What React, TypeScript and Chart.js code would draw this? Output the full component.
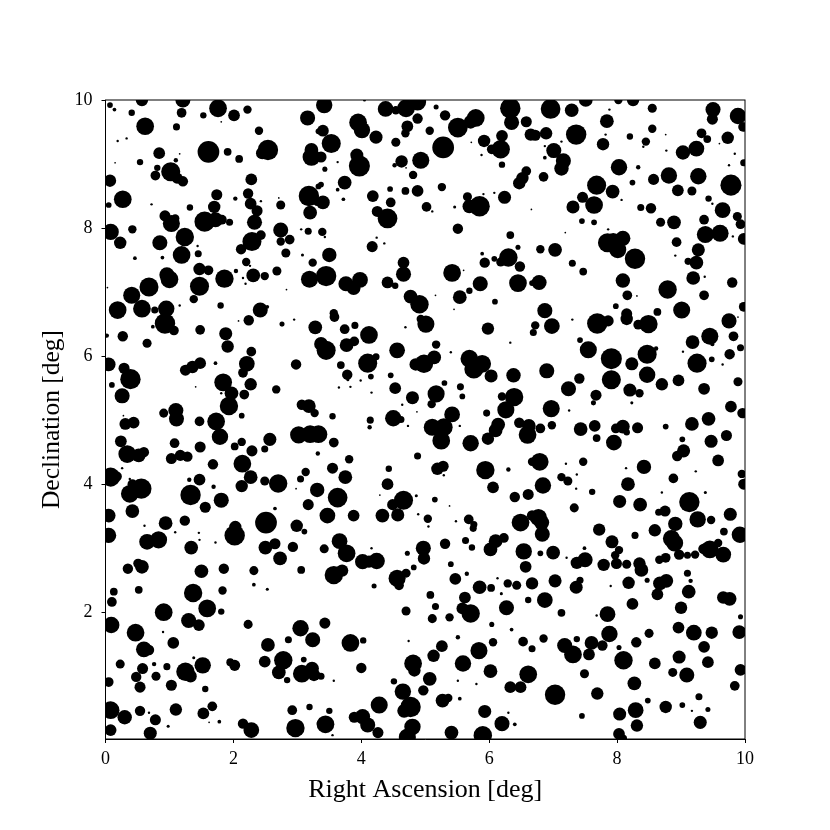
import React, { useEffect, useRef } from "react";
import { Chart, registerables } from "chart.js";

Chart.register(...registerables);

const xTickValues = [0, 2, 4, 6, 8, 10];
const yTickValues = [2, 4, 6, 8, 10];
const xTitle = "Right Ascension [deg]";
const yTitle = "Declination [deg]";

// Each sky patch: right ascension, declination, source flux
const raA = [0.57,1.21,0.07,0.14,0.41,0.62,1.19,1.53,1.76,2.01,2.22,1.11,1.81,2.40,3.16,3.33,0.19,0.33,0.84,1.16,1.61,1.91,2.09,2.54,2.45,3.22,3.22,0.15,0.54,1.10,0.81,0.78,1.02,1.12,1.21,0.07,2.28,0.27,0.05,0.72,1.32,1.74,2.03,2.23,2.27,2.37,2.43,2.71,2.74,3.18,3.33,3.20,3.31,1.70,0.93,1.03,1.09,1.55,1.72,1.82,1.94,2.33,0.08,0.42,0.23,1.24,0.85,2.74,3.17,3.06,2.43,2.29,2.12,2.74,2.88,1.44,1.45,1.19,2.82,0.46,0.89,3.08,3.24,2.20,2.26,1.47,1.61,2.04,2.68,0.96,1.00,1.86,2.31,2.49,2.15,2.19,3.19,1.47,0.68,2.83,0.41,1.38,0.19,0.57,0.77,0.95,1.16,1.80,2.42,2.53,0.03];
const decA = [10.00,10.00,9.92,9.85,9.80,9.59,9.80,9.76,9.87,9.76,9.85,9.58,9.66,9.52,9.72,9.51,9.36,9.40,9.17,9.16,9.19,9.19,9.08,9.22,9.17,9.22,9.11,9.02,9.03,9.06,8.94,8.82,8.88,8.78,8.73,8.74,8.76,8.45,8.36,8.37,8.32,8.52,8.46,8.54,8.38,8.27,8.42,8.47,8.36,8.50,8.65,8.24,8.41,8.33,8.19,8.07,8.15,8.10,8.13,8.13,8.09,8.09,7.94,7.98,7.77,7.86,7.77,7.97,7.95,7.98,7.89,7.79,7.67,7.79,7.82,7.72,7.60,7.58,7.61,7.53,7.54,7.58,7.46,7.47,7.41,7.36,7.34,7.33,7.33,7.27,7.20,7.21,7.26,7.25,7.22,7.13,7.20,7.09,7.08,7.04,6.95,6.89,6.72,6.74,6.72,6.74,6.79,6.79,6.72,6.77,7.07];
const fluxA = [18,22,8,5,9,26,14,9,26,17,12,10,2,12,22,8,3,3,17,2,32,11,11,30,18,20,26,2,9,6,9,14,28,16,15,18,17,26,8,3,9,16,6,15,17,16,3,2,13,30,8,20,12,18,16,25,12,30,22,14,10,22,24,12,18,27,22,22,10,3,14,28,15,12,14,3,10,26,13,5,5,4,12,12,3,18,14,6,13,22,26,27,20,12,3,3,25,28,28,2,25,12,26,26,10,24,3,9,22,5,2];

const raB = [3.42,4.38,4.54,4.70,4.88,4.05,5.17,5.31,4.88,4.72,4.69,3.95,4.01,3.40,3.53,4.23,4.54,5.07,5.51,5.79,5.71,6.33,6.35,6.58,6.65,6.20,5.92,5.28,5.72,6.18,6.04,5.88,6.20,3.37,3.93,3.97,3.63,3.43,4.63,4.52,4.93,4.70,4.81,6.58,6.52,6.47,3.37,3.74,3.63,3.72,3.40,4.18,4.45,4.69,4.88,5.26,4.46,5.02,5.11,5.46,5.66,5.69,5.85,5.91,6.08,6.24,6.66,4.25,4.41,3.39,3.43,5.51,6.33,4.24,4.36,4.17,6.45,3.50,5.89,6.30,6.08,6.18,5.93,6.48,4.66,4.66,3.45,5.42,5.60,3.76,3.88,3.98,4.41,4.53,5.86,6.45,5.69,5.54,4.77,4.91,5.16,6.09,5.45,3.57,6.67];
const decB = [9.92,9.86,9.84,9.87,9.97,10.00,9.89,9.76,9.71,9.59,9.48,9.65,9.53,9.52,9.32,9.42,9.34,9.52,9.57,9.72,9.66,9.87,9.65,9.66,9.46,9.44,9.36,9.26,9.34,9.23,9.23,9.14,8.99,9.11,9.14,8.97,9.03,8.92,9.04,8.98,9.06,8.94,8.83,8.89,8.78,8.70,8.68,8.71,8.60,8.45,8.40,8.50,8.61,8.58,8.58,8.64,8.40,8.33,8.26,8.33,8.49,8.34,8.34,8.53,8.55,8.48,8.29,8.26,8.15,7.94,7.86,7.99,7.89,7.85,7.76,7.71,7.70,7.58,7.60,7.54,7.52,7.47,7.46,7.40,7.46,7.28,7.25,7.30,7.34,7.13,7.06,7.19,7.15,7.10,7.13,7.14,7.02,6.92,6.93,6.81,6.95,6.85,6.73,6.67,7.14];
const fluxB = [24,23,12,26,25,4,7,15,15,17,12,26,24,17,28,19,13,12,29,26,20,30,22,16,18,17,18,32,2,27,14,3,9,16,19,31,3,7,18,6,25,2,12,14,18,18,8,20,5,5,20,17,8,11,17,12,14,14,3,4,13,20,30,3,3,19,2,16,29,12,3,15,11,3,3,16,7,21,5,27,8,13,15,15,17,22,30,26,2,22,20,23,17,9,22,26,9,20,20,27,2,8,2,12,8];

const raC = [6.96,7.29,7.51,8.02,8.25,8.55,7.88,7.84,8.55,9.50,9.49,9.89,9.97,6.89,6.72,7.36,7.82,8.20,8.76,9.32,9.41,9.73,7.78,8.45,7.13,6.87,8.41,8.77,9.60,7.01,6.87,7.16,7.13,9.03,9.24,9.84,9.98,9.75,8.03,8.33,6.85,8.81,8.57,9.27,8.24,9.78,7.68,7.93,8.95,9.17,7.46,7.64,7.31,8.07,8.37,8.53,9.43,9.49,9.65,9.88,9.93,9.36,7.45,7.64,8.68,8.89,7.86,7.19,9.38,9.61,9.81,9.98,7.85,7.94,8.09,8.01,8.93,6.80,7.03,9.27,8.28,8.91,7.30,9.24,9.11,7.47,9.37,9.19,6.78,8.09,9.80,8.79,8.16,8.31,9.36,7.98,6.87,8.15,8.63,9.01,9.98];
const decC = [9.86,9.84,10.00,10.00,10.00,9.87,9.85,9.67,9.55,9.85,9.70,9.75,9.58,9.48,9.45,9.46,9.46,9.43,9.46,9.48,9.39,9.41,9.31,9.35,9.35,9.28,9.27,9.21,9.32,9.21,9.10,9.05,8.93,9.18,9.24,9.16,9.02,8.98,8.95,8.95,8.80,8.82,8.76,8.81,8.71,8.67,8.67,8.57,8.59,8.58,8.48,8.36,8.33,8.44,8.32,8.31,8.46,8.38,8.28,8.18,8.06,8.13,8.11,8.09,8.09,8.09,7.98,7.93,7.90,7.92,7.87,7.83,7.77,7.79,7.84,7.66,7.78,7.67,7.66,7.66,7.52,7.57,7.45,7.46,7.48,7.32,7.24,7.22,7.15,7.18,7.15,7.04,6.95,6.94,6.95,6.78,6.71,6.66,6.69,6.72,6.77];
const fluxC = [29,20,20,12,18,13,3,20,12,22,16,24,14,18,16,30,3,9,2,14,11,18,18,12,3,3,3,3,2,22,5,22,21,21,23,3,10,3,24,6,14,24,16,24,8,31,28,20,17,13,16,26,19,3,10,15,9,3,23,13,14,14,8,8,13,20,3,2,25,25,3,17,28,25,22,25,14,12,20,19,30,3,10,20,10,11,3,20,22,21,15,27,14,2,14,8,22,16,11,25,14];

const raD = [0.93,1.07,0.74,1.48,0.27,0.65,0.02,1.88,1.91,2.24,2.08,2.76,2.95,3.28,2.28,0.05,1.72,2.21,2.15,2.98,1.48,1.36,1.25,0.29,0.39,0.10,0.26,1.41,1.84,2.27,1.97,1.81,2.17,2.67,1.93,2.13,3.07,3.18,3.27,0.91,1.10,1.11,0.28,0.31,0.44,1.47,1.73,1.79,0.24,1.08,2.57,2.13,2.02,1.48,2.29,2.49,3.02,3.20,3.33,0.34,0.52,0.60,1.03,1.17,1.28,2.14,1.68,3.32,0.08,0.18,0.26,0.38,1.31,1.47,2.27,3.13,3.05,2.49,2.70,2.13,1.69,2.98,0.56,0.38,0.42,0.42,1.33,1.81,1.56,3.31,3.17,2.65,0.05,0.94,1.24,0.61,2.51,2.03,2.99];
const decD = [6.51,6.40,6.46,6.41,6.31,6.20,6.32,6.35,6.15,6.56,6.55,6.50,6.57,6.45,6.07,5.87,5.89,5.88,5.74,5.87,5.89,5.83,5.78,5.81,5.64,5.55,5.38,5.52,5.59,5.56,5.42,5.42,5.40,5.48,5.22,5.07,5.24,5.22,5.11,5.11,5.15,5.02,5.07,4.94,4.96,4.98,4.98,4.74,4.67,4.64,4.70,4.66,4.59,4.58,4.52,4.55,4.77,4.78,4.78,4.47,4.45,4.50,4.40,4.45,4.43,4.32,4.31,4.48,4.11,4.12,4.25,4.08,4.07,4.07,4.11,4.19,4.08,4.05,4.01,3.97,3.96,3.93,3.93,3.85,4.00,3.58,3.83,3.75,3.64,3.91,3.68,3.62,3.51,3.39,3.43,3.35,3.40,3.33,3.35];
const fluxD = [30,14,5,14,15,13,6,19,18,15,2,7,3,20,14,20,5,23,14,15,17,18,16,16,30,8,22,2,26,18,20,3,14,12,27,8,15,20,12,13,22,22,2,17,17,14,26,24,17,14,19,12,11,16,16,10,25,26,26,26,20,15,16,16,15,26,15,6,28,14,3,3,6,17,20,12,10,13,27,18,6,2,30,26,14,20,30,22,16,21,16,5,20,20,15,3,32,18,18];

const raE = [3.58,3.74,3.90,4.12,3.37,3.45,3.77,3.89,3.68,4.10,4.23,4.56,5.17,4.69,5.01,4.93,5.40,5.98,6.33,5.14,4.98,4.85,5.69,5.89,5.76,6.03,6.38,3.78,3.79,4.15,4.46,3.99,3.65,3.83,4.16,4.53,5.30,5.55,5.58,4.80,5.17,5.10,4.64,4.87,6.39,6.20,6.26,5.96,5.42,4.50,4.62,3.55,4.14,4.13,4.73,5.11,5.29,5.25,5.54,6.14,6.10,5.98,5.71,6.47,6.60,6.62,3.57,3.81,4.88,3.55,4.43,3.75,5.19,5.28,5.29,5.94,6.30,6.67,4.41,6.06,3.63,4.29,4.66,4.49,4.86,5.15,5.38,6.40,6.61,3.47,3.88,4.33,4.57,4.89,5.04,5.48,5.68,5.76,6.49,6.67,5.05];
const decE = [6.61,6.42,6.48,6.33,6.19,6.09,6.17,6.23,5.86,5.89,5.99,6.09,6.18,6.45,6.50,6.58,6.06,6.43,6.21,5.98,5.88,5.87,5.96,5.88,5.80,5.69,5.70,5.71,5.63,5.68,5.70,5.62,5.51,5.52,5.43,5.50,5.58,5.52,5.37,5.35,5.41,5.25,5.24,5.13,5.36,5.37,5.16,5.11,5.09,5.03,5.01,5.06,5.00,4.89,4.91,4.89,4.89,4.68,4.91,4.93,4.84,4.71,4.64,4.96,4.77,4.91,4.65,4.39,4.44,4.25,4.24,4.11,4.24,4.28,4.14,4.22,4.23,4.35,4.00,3.95,3.79,3.83,3.75,3.68,3.82,3.76,3.66,3.80,3.84,3.51,3.51,3.51,3.52,3.53,3.46,3.42,3.45,3.37,3.40,3.51,3.34];
const fluxE = [14,14,10,26,20,28,20,14,11,28,10,23,12,3,25,12,3,18,3,20,27,18,26,26,28,19,21,15,4,8,8,3,3,3,3,17,8,10,8,19,25,12,3,2,27,12,25,10,23,24,10,9,10,6,3,25,26,26,3,20,20,18,24,15,26,20,14,12,10,16,9,20,18,16,3,27,6,12,17,17,29,2,28,16,4,8,2,15,16,23,17,20,19,3,12,3,14,10,26,15,3];

const raF = [6.98,6.72,6.69,7.30,7.69,7.86,8.15,8.49,8.33,9.75,9.89,9.82,9.45,9.49,9.18,7.42,7.55,7.91,8.47,8.61,8.23,9.93,9.03,9.76,9.25,9.48,9.65,6.90,7.41,7.91,8.47,8.96,8.70,9.89,7.24,8.20,8.35,9.36,7.67,7.63,8.23,6.97,7.25,9.78,9.96,9.43,9.17,6.98,6.80,7.43,7.65,7.68,7.98,8.09,8.15,8.32,8.76,7.95,9.71,9.02,9.47,9.04,8.94,6.79,7.20,7.47,8.42,9.58,8.14,9.23,7.37,7.13,7.23,8.88,6.84,8.17,9.95,9.98,7.36,7.61,8.70,9.38,9.13,8.04,8.36,7.33,8.75,8.65,9.77,6.77,6.82,9.26,9.47,8.91];
const decF = [6.47,6.48,6.37,6.57,6.51,6.55,6.58,6.50,6.49,6.55,6.61,6.31,6.31,6.19,6.22,6.25,6.10,5.96,6.03,6.12,5.88,6.13,6.07,6.03,5.89,5.95,5.87,5.77,5.65,5.63,5.71,5.62,5.56,5.60,5.49,5.47,5.42,5.49,5.39,5.27,5.27,5.18,5.15,5.21,5.11,5.02,4.94,4.92,4.87,4.86,4.91,4.72,4.87,4.90,4.81,4.88,4.90,4.65,4.76,4.70,4.67,4.52,4.44,4.35,4.32,4.35,4.27,4.37,4.25,4.20,4.15,4.11,4.05,4.09,3.98,4.00,4.16,4.00,3.93,3.88,3.87,3.87,3.72,3.73,3.68,3.63,3.58,3.56,3.53,3.48,3.40,3.45,3.44,3.38];
const fluxF = [23,12,10,3,30,16,18,27,14,22,2,14,25,6,20,8,25,31,28,6,19,10,3,15,28,8,3,22,15,28,24,17,18,13,22,19,12,17,16,7,4,25,3,17,15,20,20,12,14,20,17,11,14,20,9,16,8,23,16,8,19,19,15,26,3,12,21,17,3,3,3,12,13,14,24,20,12,16,3,9,3,4,30,19,20,13,16,10,19,25,22,24,12,21];

const raG = [0.05,0.65,0.83,1.09,1.46,1.47,1.72,2.02,1.34,2.50,2.65,2.93,3.11,2.73,0.35,0.51,0.57,1.50,1.85,2.32,3.06,0.13,0.52,1.37,1.83,2.32,2.53,0.10,0.91,1.59,1.81,1.30,1.46,0.09,2.23,3.05,0.47,0.90,1.06,2.86,3.24,2.54,0.60,0.68,1.38,1.52,1.95,2.02,2.49,2.78,3.10,0.23,0.76,0.58,0.96,1.25,1.33,2.71,3.07,3.23,3.26,0.48,0.79,2.84,0.05,1.03,0.54,1.56,0.08,0.30,0.54,0.68,1.10,1.67,1.53,2.92,3.19,0.78,1.62,1.78,0.98,2.15,2.28,2.97,0.08,0.70,3.33];
const decG = [3.20,3.10,3.13,3.25,3.24,3.13,3.09,3.20,3.01,3.01,3.07,3.02,3.26,2.84,2.68,2.76,2.71,2.64,2.68,2.65,2.66,2.32,2.35,2.30,2.34,2.43,2.36,2.16,2.00,2.06,2.01,1.87,1.80,1.80,1.81,1.75,1.68,1.69,1.52,1.57,1.57,1.49,1.42,1.41,1.29,1.17,1.22,1.17,1.23,1.25,1.26,1.19,1.19,1.12,1.15,1.07,1.00,1.06,1.04,1.12,1.02,0.99,1.00,0.94,0.91,0.86,0.83,0.80,0.47,0.36,0.46,0.43,0.48,0.53,0.42,0.47,0.52,0.32,0.28,0.29,0.22,0.26,0.16,0.19,0.16,0.11,0.27];
const fluxG = [22,23,25,3,3,3,3,30,20,20,16,15,8,20,15,14,20,20,15,13,11,11,11,27,12,5,4,14,26,26,9,22,17,24,13,24,26,3,17,10,22,20,23,15,4,24,11,16,17,27,8,13,6,16,10,27,18,20,26,20,18,15,13,9,14,16,16,9,26,21,15,3,18,14,17,14,9,16,2,5,4,15,23,27,17,19,5];

const raH = [3.66,3.42,3.77,4.02,4.24,4.12,4.16,3.57,3.70,4.97,4.98,4.72,5.31,5.63,5.73,5.75,6.02,6.10,6.23,6.54,5.40,4.82,4.70,4.56,4.59,5.65,5.47,6.57,6.67,6.13,4.20,5.85,6.03,6.29,6.43,6.19,5.08,5.62,6.61,5.16,5.58,5.71,6.27,4.70,5.11,5.38,3.43,6.04,6.35,5.51,6.53,3.83,4.03,4.74,6.06,5.26,5.84,6.67,5.13,4.81,4.83,5.59,4.00,6.02,6.61,3.37,3.57,4.51,5.07,4.97,5.51,5.80,6.33,6.49,4.65,5.54,5.27,5.36,4.28,4.77,4.67,3.50,5.93,6.30,3.89,4.02,4.10,3.44,6.20,6.40,4.80,4.26,5.41,5.90,4.72,3.55];
const decH = [3.11,2.99,2.92,2.79,2.80,2.79,3.00,2.58,2.65,3.00,2.84,2.92,3.07,3.12,3.01,3.31,2.98,3.11,3.16,2.95,2.75,2.70,2.61,2.53,2.42,2.60,2.52,2.71,2.45,2.53,2.41,2.39,2.38,2.45,2.42,2.29,2.27,2.23,2.19,2.09,2.06,1.98,2.07,2.02,1.90,1.92,1.83,1.81,1.73,1.61,1.54,1.52,1.56,1.55,1.53,1.47,1.40,1.43,1.32,1.20,1.09,1.20,1.13,1.08,1.03,1.00,0.93,0.92,0.96,0.78,0.93,0.88,0.83,0.83,0.76,0.65,0.62,0.66,0.55,0.52,0.46,0.46,0.45,0.43,0.36,0.37,0.24,0.25,0.26,0.25,0.21,0.12,0.12,0.08,0.05,0.08];
const fluxH = [23,13,26,22,24,18,3,27,18,22,18,7,15,10,9,10,20,20,14,24,8,8,13,25,14,6,17,17,18,3,7,20,11,12,13,4,11,17,9,10,17,27,22,13,13,12,16,7,5,6,14,26,9,3,12,17,25,10,18,26,18,24,15,20,26,10,3,9,20,15,3,3,17,17,24,5,20,12,25,30,20,9,19,3,16,22,22,26,22,5,24,16,20,27,25,3];

const raI = [6.83,7.72,8.28,8.59,8.85,8.90,9.67,9.92,7.92,7.00,6.80,7.49,8.03,7.97,9.45,9.58,9.66,9.35,8.97,9.10,9.22,7.21,7.37,7.50,7.79,7.99,8.15,8.35,8.38,8.66,8.76,7.03,9.10,7.42,7.36,8.18,8.47,9.15,8.67,8.77,8.63,7.90,9.12,6.87,8.24,9.66,9.76,9.00,7.13,7.85,7.68,9.93,8.96,9.20,9.48,9.91,7.88,8.50,6.85,7.37,8.30,7.18,7.31,7.60,7.77,7.56,8.03,9.36,8.97,8.10,9.42,8.59,9.93,7.49,8.87,9.09,8.27,9.84,7.03,7.69,9.28,8.48,9.02,8.76,8.29,8.04,9.42,9.17,7.45,9.30,8.31,8.03,8.10];
const decI = [3.22,3.29,3.20,3.28,3.15,3.08,3.26,3.21,3.10,2.93,2.92,3.00,2.97,2.89,2.98,3.08,2.90,2.99,2.90,2.89,2.90,2.85,2.77,2.82,2.74,2.76,2.75,2.76,2.66,2.82,2.85,2.49,2.61,2.50,2.39,2.46,2.50,2.49,2.45,2.49,2.28,2.41,2.32,2.19,2.13,2.23,2.21,2.07,1.99,1.97,1.95,1.93,1.76,1.68,1.68,1.69,1.66,1.67,1.59,1.58,1.53,1.48,1.34,1.52,1.48,1.34,1.45,1.46,1.30,1.25,1.22,1.20,1.10,1.04,1.06,1.02,0.89,0.85,0.71,0.73,0.68,0.62,0.55,0.52,0.47,0.41,0.48,0.46,0.38,0.28,0.23,0.10,0.03];
const fluxI = [22,18,10,18,25,25,11,24,19,20,8,5,12,12,26,12,23,15,15,10,12,3,18,22,18,16,13,18,20,12,14,19,10,10,19,18,7,6,20,20,17,3,20,23,17,18,20,18,11,23,3,7,17,23,18,20,24,13,12,9,15,22,26,20,15,17,7,17,19,27,17,17,17,13,13,22,20,14,30,18,10,8,8,18,23,19,7,3,8,19,18,17,10];

const raValues = [...raA, ...raB, ...raC, ...raD, ...raE, ...raF, ...raG, ...raH, ...raI];
const decValues = [...decA, ...decB, ...decC, ...decD, ...decE, ...decF, ...decG, ...decH, ...decI];
const fluxValues = [...fluxA, ...fluxB, ...fluxC, ...fluxD, ...fluxE, ...fluxF, ...fluxG, ...fluxH, ...fluxI];

const serif = "'Liberation Serif', 'Times New Roman', serif";

const framePlugin = {
  id: "frame",
  afterDatasetsDraw(chart: any) {
    const { ctx, chartArea: a } = chart;
    ctx.save();
    ctx.strokeStyle = "#000";
    ctx.lineWidth = 1;
    ctx.strokeRect(a.left, a.top, a.right - a.left, a.bottom - a.top);
    ctx.restore();
  },
};

export default function App() {
  const ref = useRef<HTMLCanvasElement>(null);
  useEffect(() => {
    const chart = new Chart(ref.current as HTMLCanvasElement, {
      type: "scatter",
      data: {
        datasets: [
          {
            data: raValues.map((x, i) => ({ x, y: decValues[i] })),
            backgroundColor: "#000",
            borderWidth: 0,
            pointRadius: (c: any) => (fluxValues[c.dataIndex] ?? 3) / 3 + 0.2,
            pointHoverRadius: (c: any) => (fluxValues[c.dataIndex] ?? 3) / 3 + 0.2,
          },
        ],
      },
      options: {
        animation: false,
        responsive: false,
        events: [],
        layout: { padding: { left: 0, top: 100, right: 85, bottom: 0 } },
        plugins: { legend: { display: false }, tooltip: { enabled: false } },
        scales: {
          x: {
            type: "linear",
            min: 0,
            max: 10,
            afterBuildTicks: (s: any) => {
              s.ticks = xTickValues.map((value) => ({ value }));
            },
            afterFit: (s: any) => {
              s.height = 91;
            },
            ticks: {
              color: "#000",
              font: { family: serif, size: 18 },
              padding: 5,
              maxRotation: 0,
              autoSkip: false,
            },
            grid: { drawOnChartArea: false, drawTicks: true, tickLength: 4, color: "#000" },
            border: { display: true, color: "#000" },
            title: {
              display: true,
              text: xTitle,
              color: "#000",
              font: { family: serif, size: 26 },
              padding: { top: 6, bottom: 24 },
            },
          },
          y: {
            type: "linear",
            min: 0.02,
            max: 10,
            afterBuildTicks: (s: any) => {
              s.ticks = yTickValues.map((value) => ({ value }));
            },
            afterFit: (s: any) => {
              s.width = 105.5;
            },
            ticks: {
              color: "#000",
              font: { family: serif, size: 18 },
              padding: 9,
              autoSkip: false,
            },
            grid: { drawOnChartArea: false, drawTicks: true, tickLength: 4, color: "#000" },
            border: { display: true, color: "#000" },
            title: {
              display: true,
              text: yTitle,
              color: "#000",
              font: { family: serif, size: 25.5 },
              padding: { top: 37, bottom: 6 },
            },
          },
        },
      },
      plugins: [framePlugin],
    } as any);
    return () => chart.destroy();
  }, []);
  return (
    <div style={{ position: "absolute", left: 0, top: 0, width: 830, height: 830, background: "#fff" }}>
      <canvas ref={ref} width={830} height={830} style={{ display: "block" }} />
    </div>
  );
}
